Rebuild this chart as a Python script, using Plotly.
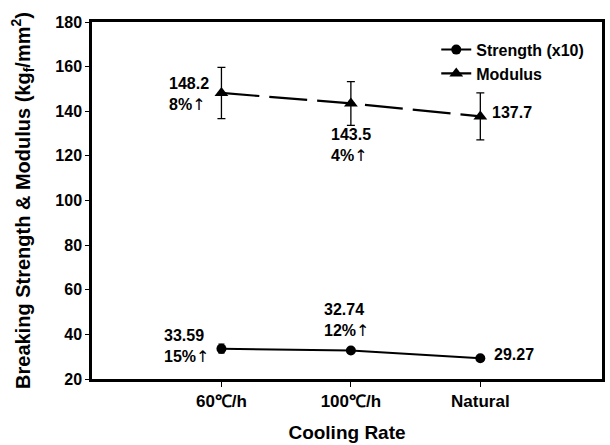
import plotly.graph_objects as go

categories = ["60℃/h", "100℃/h", "Natural"]
strength = [33.59, 32.74, 29.27]
strength_err = [2.0, 1.2, 1.0]
modulus = [148.2, 143.5, 137.7]
modulus_err = [11.5, 9.8, 10.5]
strength_val = ["33.59", "32.74", "29.27"]
strength_pct = ["15%", "12%", ""]
modulus_val = ["148.2", "143.5", "137.7"]
modulus_pct = ["8%", "4%", ""]
y_ticks = [20, 40, 60, 80, 100, 120, 140, 160, 180]

xs = list(range(len(categories)))
FONT = "Liberation Sans, Arial, sans-serif"
ARROW = "<span style='font-family:DejaVu Sans;font-weight:normal'>↑</span>"


def label(val, pct):
    if pct:
        return "<b>" + val + "<br>" + pct + "</b>" + ARROW
    return "<b>" + val + "</b>"


fig = go.Figure()
fig.add_trace(go.Scatter(
    x=xs, y=strength, name="<b>Strength (x10)</b>", mode="lines+markers",
    line=dict(color="black", width=2),
    marker=dict(symbol="circle", size=10, color="black"),
    error_y=dict(type="data", array=strength_err, color="black", thickness=1.3, width=3),
))
fig.add_trace(go.Scatter(
    x=xs, y=modulus, name="<b>Modulus</b>", mode="lines+markers",
    line=dict(color="black", width=2.2, dash="38px,10px"),
    marker=dict(symbol="triangle-up", size=12, color="black"),
    error_y=dict(type="data", array=modulus_err, color="black", thickness=1.3, width=4),
))

# (xanchor, xshift, yshift) per point
s_place = [("right", -10, 2), ("center", -4, 30), ("left", 12, 4)]
m_place = [("right", -10, -2), ("center", 0, -42), ("left", 10, 4)]
for i in xs:
    xa, xsft, ysft = s_place[i]
    fig.add_annotation(x=i, y=strength[i], text=label(strength_val[i], strength_pct[i]),
                       showarrow=False, xanchor=xa, xshift=xsft, yshift=ysft,
                       align="left", font=dict(family=FONT, size=16, color="black"))
    xa, xsft, ysft = m_place[i]
    fig.add_annotation(x=i, y=modulus[i], text=label(modulus_val[i], modulus_pct[i]),
                       showarrow=False, xanchor=xa, xshift=xsft, yshift=ysft,
                       align="left", font=dict(family=FONT, size=16, color="black"))

fig.update_layout(
    width=610, height=445,
    margin=dict(l=92, r=5, t=22, b=63),
    plot_bgcolor="white", paper_bgcolor="white",
    font=dict(family=FONT, size=15, color="black"),
    showlegend=True,
    legend=dict(x=0.675, y=0.97, xanchor="left", yanchor="top",
                bgcolor="rgba(0,0,0,0)", font=dict(family=FONT, size=16, color="black"),
                tracegroupgap=0),
)
fig.update_xaxes(
    range=[-1, 2.94], tickmode="array", tickvals=xs,
    ticktext=["<b>" + c + "</b>" for c in categories],
    showline=True, linecolor="black", linewidth=2.5, mirror=True,
    ticks="outside", ticklen=5, tickcolor="black", showgrid=False, zeroline=False,
    title=dict(text="<b>Cooling Rate</b>", font=dict(family=FONT, size=19), standoff=16),
    tickfont=dict(family=FONT, size=17),
)
fig.update_yaxes(
    range=[20, 180], tickmode="array", tickvals=y_ticks,
    ticktext=["<b>%d</b>" % v for v in y_ticks],
    showline=True, linecolor="black", linewidth=2.5, mirror=True,
    ticks="outside", ticklen=4, tickcolor="black", showgrid=False, zeroline=False,
    title=dict(text="<b>Breaking Strength & Modulus (kg<sub>f</sub>/mm<sup>2</sup>)</b>",
               font=dict(family=FONT, size=20), standoff=20),
    tickfont=dict(family=FONT, size=16),
)

fig.write_html("out.html", config={"displayModeBar": False},
               post_script="document.body.style.margin='0';")
